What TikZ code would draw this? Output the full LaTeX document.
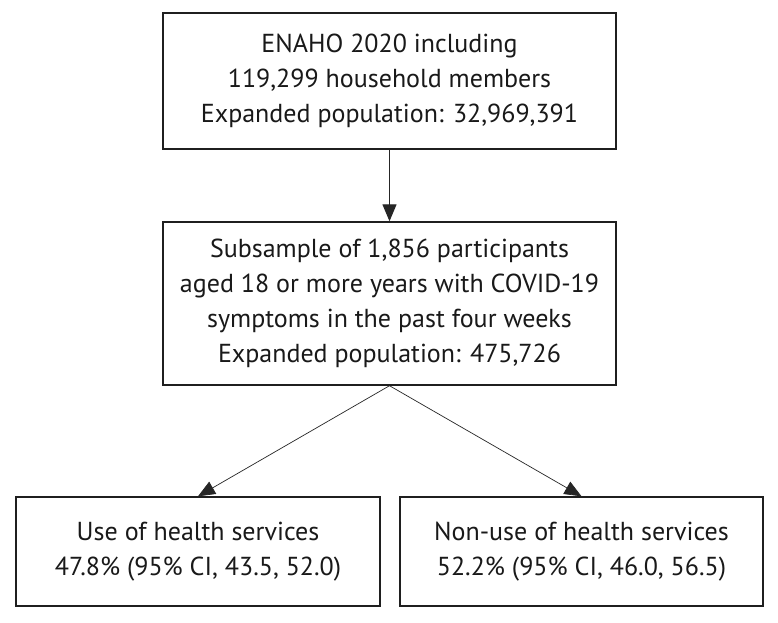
\documentclass[tikz,border=0pt]{standalone}
\usepackage{fontspec}
\setmainfont{PT Sans}
\usetikzlibrary{arrows.meta}
\begin{document}
\begin{tikzpicture}[x=1pt,y=-1pt,
  box/.style={draw=black!88, line width=1.4pt, align=center, inner sep=0pt,
    font=\fontsize{26}{35}\selectfont, text=black!90},
  conn/.style={draw=black!85, -{Triangle[length=17pt,width=14pt]}},
]
\useasboundingbox[fill=white] (0,0) rectangle (778,622);
\node[box, minimum width=453pt, minimum height=136pt] (b1) at (389.5,81)
  {ENAHO 2020 including\\119,299 household members\\Expanded population: 32,969,391};
\node[box, minimum width=453pt, minimum height=163pt] (b2) at (389.5,303.5)
  {Subsample of 1,856 participants\\aged 18 or more years with COVID-19\\symptoms in the past four weeks\\Expanded population: 475,726};
\node[box, minimum width=364pt, minimum height=109pt] (b3) at (198,551.5)
  {Use of health services\\47.8\% (95\% CI, 43.5, 52.0)};
\node[box, minimum width=363pt, minimum height=109pt] (b4) at (581.5,551.5)
  {Non-use of health services\\52.2\% (95\% CI, 46.0, 56.5)};
\draw[conn, line width=1.2pt] (b1.south) -- (b2.north);
\draw[conn, line width=0.7pt] (b2.south) -- (b3.north);
\draw[conn, line width=0.7pt] (b2.south) -- (b4.north);
\end{tikzpicture}
\end{document}
